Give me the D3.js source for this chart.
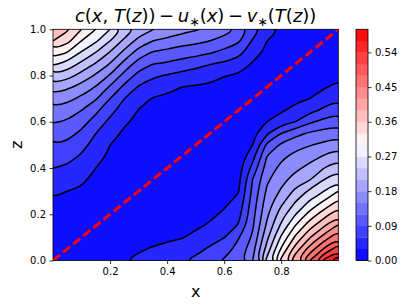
<!DOCTYPE html>
<html>
<head>
<meta charset="utf-8">
<script src="https://cdn.jsdelivr.net/npm/d3@7"></script>
<style>
  body { margin: 0; background: #fff; }
  svg { display: block; font-family: "DejaVu Sans", sans-serif; }
</style>
</head>
<body>
<div id="chart"></div>
<script>
(function(d3) {
  "use strict";

  var xGrid = [0, 0.05, 0.1, 0.15, 0.2, 0.25, 0.3, 0.35, 0.4, 0.45, 0.5,
               0.55, 0.6, 0.65, 0.7, 0.75, 0.8, 0.85, 0.9, 0.95, 1];
  var zGrid = [0, 0.05, 0.1, 0.15, 0.2, 0.25, 0.3, 0.35, 0.4, 0.45, 0.5,
               0.55, 0.6, 0.65, 0.7, 0.75, 0.8, 0.85, 0.9, 0.95, 1];

  // c(x,T(z)) - u*(x) - v*(T(z)), one column per x value, z going up from 0 to 1
  var field = [
    [0, .005, .01, .015, .02, .026, .035, .047, .06, .074, .089, .105, .122, .142, .166, .197, .235, .275, .318, .36, .39],
    [.005, 0, .006, .012, .018, .024, .03, .043, .056, .07, .084, .1, .117, .136, .158, .186, .222, .26, .30, .34, .365],
    [.01, .007, 0, .007, .013, .02, .027, .034, .045, .056, .069, .084, .101, .12, .143, .169, .199, .232, .267, .30, .33],
    [.016, .011, .007, 0, .006, .012, .018, .024, .03, .04, .05, .06, .078, .097, .123, .148, .176, .207, .24, .275, .30],
    [.022, .016, .011, .007, 0, .005, .01, .015, .02, .025, .03, .042, .053, .069, .09, .116, .147, .178, .208, .24, .27],
    [.029, .022, .016, .011, .007, 0, .004, .008, .012, .016, .02, .025, .034, .047, .06, .083, .11, .14, .172, .203, .235],
    [.036, .027, .02, .014, .01, .006, 0, .004, .008, .012, .016, .02, .024, .029, .041, .057, .08, .106, .137, .17, .2],
    [.043, .032, .023, .017, .013, .009, .005, 0, .004, .008, .011, .015, .019, .023, .028, .043, .065, .09, .117, .15, .181],
    [.05, .036, .026, .02, .015, .012, .009, .006, 0, .004, .008, .012, .016, .02, .026, .036, .058, .086, .112, .142, .172],
    [.057, .044, .028, .021, .017, .014, .011, .008, .005, 0, .004, .008, .013, .018, .023, .03, .05, .079, .103, .134, .16],
    [.066, .052, .037, .026, .02, .016, .013, .01, .007, .004, 0, .004, .009, .015, .021, .027, .046, .07, .101, .128, .153],
    [.08, .064, .049, .033, .025, .02, .016, .012, .009, .006, .003, 0, .005, .011, .018, .025, .04, .061, .093, .12, .145],
    [.093, .077, .059, .046, .034, .025, .019, .014, .01, .007, .004, .002, 0, .006, .012, .02, .031, .055, .082, .109, .135],
    [.109, .099, .088, .062, .05, .039, .028, .022, .017, .012, .008, .004, .002, 0, .006, .014, .027, .046, .07, .095, .115],
    [.15, .138, .125, .116, .11, .104, .097, .091, .07, .049, .03, .022, .015, .008, 0, .008, .016, .027, .042, .057, .075],
    [.25, .221, .203, .186, .174, .165, .155, .145, .133, .121, .097, .055, .03, .016, .008, 0, .009, .017, .024, .03, .045],
    [.338, .303, .275, .246, .226, .203, .184, .17, .158, .143, .125, .09, .047, .026, .018, .01, 0, .007, .013, .02, .028],
    [.413, .374, .336, .302, .269, .242, .217, .193, .173, .159, .14, .111, .06, .037, .025, .018, .01, 0, .007, .013, .02],
    [.48, .433, .388, .348, .311, .276, .246, .208, .189, .169, .148, .124, .085, .051, .03, .022, .016, .008, 0, .006, .013],
    [.546, .483, .433, .387, .346, .307, .27, .24, .21, .183, .157, .131, .099, .065, .047, .027, .02, .013, .008, 0, .006],
    [.595, .528, .475, .425, .381, .339, .30, .263, .23, .198, .168, .138, .108, .08, .056, .037, .024, .016, .01, .005, 0]
  ];

  var levels = [0, 0.03, 0.06, 0.09, 0.12, 0.15, 0.18, 0.21, 0.24, 0.27, 0.3,
                0.33, 0.36, 0.39, 0.42, 0.45, 0.48, 0.51, 0.54, 0.57, 0.6];
  var xTicks = [0.2, 0.4, 0.6, 0.8];
  var zTicks = [0, 0.2, 0.4, 0.6, 0.8, 1.0];
  var barTicks = [0, 0.09, 0.18, 0.27, 0.36, 0.45, 0.54];
  var diagX = [0, 1];
  var diagZ = [0, 1];

  var W = 407, H = 307;
  var Plot = {left: 53, top: 29.3, right: 338.3, bottom: 260.5};
  var Bar = {left: 356, right: 368};

  var svg = d3.select("#chart").append("svg")
      .attr("width", W)
      .attr("height", H);

  var x = d3.scaleLinear().domain([0, 1]).range([Plot.left, Plot.right]);
  var y = d3.scaleLinear().domain([0, 1]).range([Plot.bottom, Plot.top]);
  // bwr colormap, white at the middle of the level range
  var color = d3.scaleLinear()
      .domain([levels[0], (levels[0] + levels[levels.length - 1]) / 2, levels[levels.length - 1]])
      .range(["#0000ff", "#ffffff", "#ff0000"]);
  var bandColor = function(i) { return color((levels[i] + levels[i + 1]) / 2); };

  // flatten the columns into the row-major table d3.contours wants
  var nx = xGrid.length, nz = zGrid.length;
  var values = [];
  zGrid.forEach(function(z, j) {
    xGrid.forEach(function(xv, i) { values.push(field[i][j]); });
  });
  var bands = d3.contours()
      .size([nx, nz])
      .thresholds(levels.slice(0, -1))(values);

  // contour grid units -> pixels (value i sits at i + 0.5)
  var gx = d3.scaleLinear().domain([0.5, nx - 0.5]).range([x(xGrid[0]), x(xGrid[nx - 1])]);
  var gz = d3.scaleLinear().domain([0.5, nz - 0.5]).range([y(zGrid[0]), y(zGrid[nz - 1])]);
  var ringLine = d3.line()
      .x(function(p) { return gx(p[0]); })
      .y(function(p) { return gz(p[1]); })
      .curve(d3.curveBasisClosed);
  var bandPath = function(c) {
    return c.coordinates.map(function(poly) {
      return poly.map(function(ring) { return ringLine(ring.slice(0, -1)); }).join("");
    }).join("");
  };

  svg.append("clipPath").attr("id", "plotClip")
    .append("rect")
      .attr("x", Plot.left).attr("y", Plot.top)
      .attr("width", Plot.right - Plot.left)
      .attr("height", Plot.bottom - Plot.top);

  var plot = svg.append("g").attr("clip-path", "url(#plotClip)");

  // filled bands
  plot.append("g")
    .selectAll("path")
    .data(bands)
    .enter().append("path")
      .attr("d", bandPath)
      .attr("fill", function(d, i) { return bandColor(i); })
      .attr("fill-rule", "evenodd")
      .attr("stroke", function(d, i) { return bandColor(i); })
      .attr("stroke-width", 0.5);

  // black contour lines (skip the 0 level)
  plot.append("g")
    .selectAll("path")
    .data(bands.slice(1))
    .enter().append("path")
      .attr("d", bandPath)
      .attr("fill", "none")
      .attr("stroke", "#000")
      .attr("stroke-width", 1.5);

  // red dashed diagonal
  plot.append("path")
    .datum(diagX.map(function(v, i) { return [v, diagZ[i]]; }))
    .attr("d", d3.line()
      .x(function(d) { return x(d[0]); })
      .y(function(d) { return y(d[1]); }))
    .attr("fill", "none")
    .attr("stroke", "#ff0000")
    .attr("stroke-width", 3)
    .attr("stroke-dasharray", "9,4");

  // frame
  svg.append("rect")
    .attr("x", Plot.left).attr("y", Plot.top)
    .attr("width", Plot.right - Plot.left)
    .attr("height", Plot.bottom - Plot.top)
    .attr("fill", "none")
    .attr("stroke", "#000")
    .attr("stroke-width", 0.8);

  var styleAxis = function(g) {
    g.select(".domain").remove();
    g.attr("font-family", "DejaVu Sans").attr("font-size", 10);
    g.selectAll("line").attr("stroke", "#000").attr("stroke-width", 0.8);
    g.selectAll("text").attr("fill", "#000");
  };

  svg.append("g")
    .attr("transform", `translate(0,${Plot.bottom})`)
    .call(d3.axisBottom(x).tickValues(xTicks).tickFormat(d3.format(".1f"))
      .tickSize(3.5).tickPadding(3.5).tickSizeOuter(0))
    .call(styleAxis);

  svg.append("g")
    .attr("transform", `translate(${Plot.left},0)`)
    .call(d3.axisLeft(y).tickValues(zTicks).tickFormat(d3.format(".1f"))
      .tickSize(3.5).tickPadding(3.5).tickSizeOuter(0))
    .call(styleAxis);

  // axis titles
  svg.append("text")
    .attr("x", (Plot.left + Plot.right) / 2)
    .attr("y", 296.5)
    .attr("text-anchor", "middle")
    .attr("font-size", 16)
    .text("x");
  svg.append("text")
    .attr("transform", `translate(21.5,${(Plot.top + Plot.bottom) / 2}) rotate(-90)`)
    .attr("text-anchor", "middle")
    .attr("font-size", 16)
    .text("z");

  // title, written the way mathtext sets it
  var title = svg.append("text")
    .attr("x", (Plot.left + Plot.right) / 2)
    .attr("y", 22)
    .attr("text-anchor", "middle")
    .attr("font-size", 18);
  var parts = [
    ["c", "i"], ["(", ""], ["x", "i"], [", ", ""], ["T", "i"], ["(", ""], ["z", "i"], ["))", ""],
    ["\u2009\u2212\u2009", ""], ["u", "i"], ["\u2217", "s"], ["(", ""], ["x", "i"], [")", ""],
    ["\u2009\u2212\u2009", ""], ["v", "i"], ["\u2217", "s"], ["(", ""], ["T", "i"], ["(", ""], ["z", "i"], ["))", ""]
  ];
  var shifted = false;
  parts.forEach(function(p) {
    var t = title.append("tspan").text(p[0]);
    if (p[1] == "i") t.attr("font-style", "italic");
    if (p[1] == "s") {
      t.attr("font-size", 12.5).attr("dy", 4);
      shifted = true;
    } else if (shifted) {
      t.attr("dy", -4);
      shifted = false;
    }
  });

  // colorbar
  var cy = d3.scaleLinear()
      .domain([levels[0], levels[levels.length - 1]])
      .range([Plot.bottom, Plot.top]);
  var bar = svg.append("g");
  bar.selectAll("rect")
    .data(levels.slice(0, -1))
    .enter().append("rect")
      .attr("x", Bar.left)
      .attr("width", Bar.right - Bar.left)
      .attr("y", function(d, i) { return cy(levels[i + 1]); })
      .attr("height", function(d, i) { return cy(levels[i]) - cy(levels[i + 1]) + 0.3; })
      .attr("fill", function(d, i) { return bandColor(i); });
  bar.append("rect")
    .attr("x", Bar.left).attr("y", Plot.top)
    .attr("width", Bar.right - Bar.left)
    .attr("height", Plot.bottom - Plot.top)
    .attr("fill", "none")
    .attr("stroke", "#000")
    .attr("stroke-width", 0.8);

  svg.append("g")
    .attr("transform", `translate(${Bar.right},0)`)
    .call(d3.axisRight(cy).tickValues(barTicks).tickFormat(d3.format(".2f"))
      .tickSize(3.5).tickPadding(3.5).tickSizeOuter(0))
    .call(styleAxis);

})(d3);
</script>
</body>
</html>
